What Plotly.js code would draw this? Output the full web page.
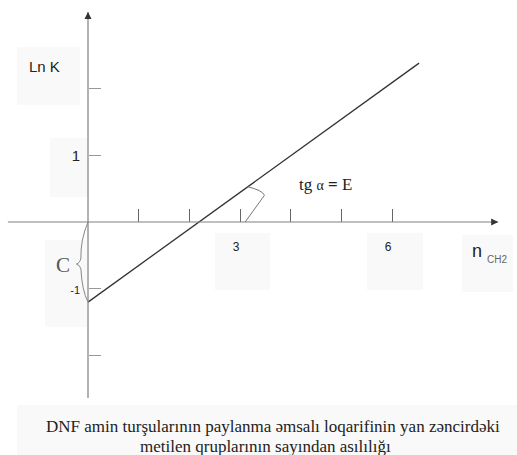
<!DOCTYPE html>
<html>
<head>
<meta charset="utf-8">
<script src="https://cdn.plot.ly/plotly-3.0.1.min.js"></script>
<style>
  html, body { margin: 0; padding: 0; background: #fff; }
  #chart { width: 517px; height: 455px; }
</style>
</head>
<body>
<div id="chart"></div>
<script>
// Ln K against the number of CH2 groups: a straight line with intercept C and slope tg α = E
const nCH2 = [0, 6.53];
const lnK = [-1.2, 2.38];

// axis ticks and their labels
const xTickVals = [1, 2, 3, 4, 5, 6];
const xTickText = ['', '', '3', '', '', '6'];
const yTickVals = [-2, -1, 1, 2];
const yTickText = ['', '<span style="font-size:11px">-1</span>', '1', ''];

// text on the figure
const yLabel = 'Ln K';
const xLabelMain = 'n';
const xLabelSub = 'CH2';
const interceptLabel = 'C';
const slopeLabel = 'tg <span style="font-size:14px">α</span> <b>=</b> E';
const captionLines = [
  'DNF amin turşularının paylanma əmsalı loqarifinin yan zəncirdəki',
  'metilen qruplarının sayından asılılığı'
];

const W = 517, H = 455;
// pixel scale of one unit on each axis and where the origin sits
const ux = 50.7, uy = 66.75, ox = 88, oy = 222;
const xRange = [-ox / ux, (W - ox) / ux];
const yRange = [-(H - oy) / uy, oy / uy];
// visible extent of the two axis lines
const xAxisEnds = [-1.58, 8.09];
const yAxisEnds = [-2.637, 3.146];

// helpers for placing text and backgrounds in figure pixels
const fx = p => p / W;
const fy = p => 1 - p / H;

const sans = 'Liberation Sans, Arial, sans-serif';
const serif = 'Liberation Serif, Times New Roman, serif';

const slope = (lnK[1] - lnK[0]) / (nCH2[1] - nCH2[0]);
const C = lnK[0];
const lineAt = x => C + slope * x;

const trace = {
  x: nCH2,
  y: lnK,
  type: 'scatter',
  mode: 'lines',
  line: { color: '#333', width: 1.3 },
  hoverinfo: 'skip',
  showlegend: false
};

// faint backgrounds behind the pasted labels
const boxes = [
  [17, 47, 80, 105],
  [50, 138, 88, 197],
  [45, 240, 87, 327],
  [215, 233, 270, 290],
  [367, 233, 423, 290],
  [462, 235, 513, 292],
  [17, 405, 517, 455]
];
const shapes = boxes.map(b => ({
  type: 'rect', xref: 'paper', yref: 'paper', layer: 'below',
  x0: fx(b[0]), x1: fx(b[2]), y0: fy(b[3]), y1: fy(b[1]),
  line: { width: 0 }, fillcolor: '#f9f9f9'
}));

// the two axis lines
shapes.push({
  type: 'line', xref: 'x', yref: 'y', x0: xAxisEnds[0], x1: xAxisEnds[1], y0: 0, y1: 0,
  line: { color: '#808080', width: 1.2 }
});
shapes.push({
  type: 'line', xref: 'x', yref: 'y', x0: 0, x1: 0, y0: yAxisEnds[0], y1: yAxisEnds[1],
  line: { color: '#808080', width: 1.2 }
});

// brace marking the intercept C on the Ln K axis
const m = C / 2;
shapes.push({
  type: 'path', xref: 'x', yref: 'y',
  path: `M 0,0 Q -0.15,${(m * 0.45).toFixed(3)} -0.14,${(m * 0.9).toFixed(3)} ` +
        `Q -0.16,${(m * 1.03).toFixed(3)} -0.23,${(m * 1.05).toFixed(3)} ` +
        `Q -0.16,${(m * 1.07).toFixed(3)} -0.14,${(m * 1.17).toFixed(3)} ` +
        `Q -0.12,${(m * 1.7).toFixed(3)} 0,${C}`,
  line: { color: '#888', width: 1 }
});

// angle mark between the line and the n axis
const a0 = 3.15;
shapes.push({
  type: 'path', xref: 'x', yref: 'y',
  path: `M ${a0},${lineAt(a0).toFixed(3)} Q 3.44,${(lineAt(a0) - 0.05).toFixed(3)} 3.48,0.40 L 3.10,0`,
  line: { color: '#777', width: 1 }
});

const annotations = [
  { text: yLabel, x: fx(44.5), y: fy(66), font: { family: sans, size: 15, color: '#222' } },
  { text: xLabelMain, x: fx(477), y: fy(251), font: { family: sans, size: 18, color: '#222' } },
  { text: xLabelSub, x: fx(497), y: fy(259), font: { family: sans, size: 10, color: '#666' } },
  { text: interceptLabel, x: fx(63), y: fy(265), font: { family: serif, size: 21, color: '#555' } },
  { text: slopeLabel, x: fx(325), y: fy(184), font: { family: serif, size: 17, color: '#222' } },
  { text: captionLines[0], x: fx(273), y: fy(426), font: { family: serif, size: 17, color: '#222' } },
  { text: captionLines[1], x: fx(265), y: fy(446), font: { family: serif, size: 17, color: '#222' } }
].map(a => Object.assign({ xref: 'paper', yref: 'paper', showarrow: false, xanchor: 'center', yanchor: 'middle' }, a));

// dark arrow heads at the ends of the axes
annotations.push({
  x: xAxisEnds[1], y: 0, xref: 'x', yref: 'y', ax: -6, ay: 0,
  text: '', showarrow: true, arrowhead: 2, arrowsize: 1, arrowwidth: 1.4, arrowcolor: '#333'
});
annotations.push({
  x: 0, y: yAxisEnds[1], xref: 'x', yref: 'y', ax: 0, ay: 6,
  text: '', showarrow: true, arrowhead: 2, arrowsize: 1, arrowwidth: 1.4, arrowcolor: '#333'
});

const layout = {
  width: W,
  height: H,
  margin: { l: 0, r: 0, t: 0, b: 0, pad: 0 },
  paper_bgcolor: '#fff',
  plot_bgcolor: 'rgba(0,0,0,0)',
  showlegend: false,
  xaxis: {
    range: xRange, fixedrange: true,
    anchor: 'free', position: 1 - oy / H, side: 'bottom',
    showline: false, zeroline: false, showgrid: false,
    tickmode: 'array', tickvals: xTickVals, ticktext: xTickText,
    ticks: 'inside', ticklen: 13, tickwidth: 1.2, tickcolor: '#666',
    ticklabelstandoff: 16, ticklabelshift: -4,
    tickfont: { family: sans, size: 12, color: '#222' }
  },
  yaxis: {
    range: yRange, fixedrange: true,
    anchor: 'free', position: ox / W, side: 'left',
    showline: false, zeroline: false, showgrid: false,
    tickmode: 'array', tickvals: yTickVals, ticktext: yTickText,
    ticks: 'inside', ticklen: 12, tickwidth: 1.2, tickcolor: '#999',
    ticklabelstandoff: 8,
    tickfont: { family: sans, size: 15, color: '#222' }
  },
  shapes: shapes,
  annotations: annotations
};

Plotly.newPlot('chart', [trace], layout, { displayModeBar: false, staticPlot: true });
</script>
</body>
</html>
